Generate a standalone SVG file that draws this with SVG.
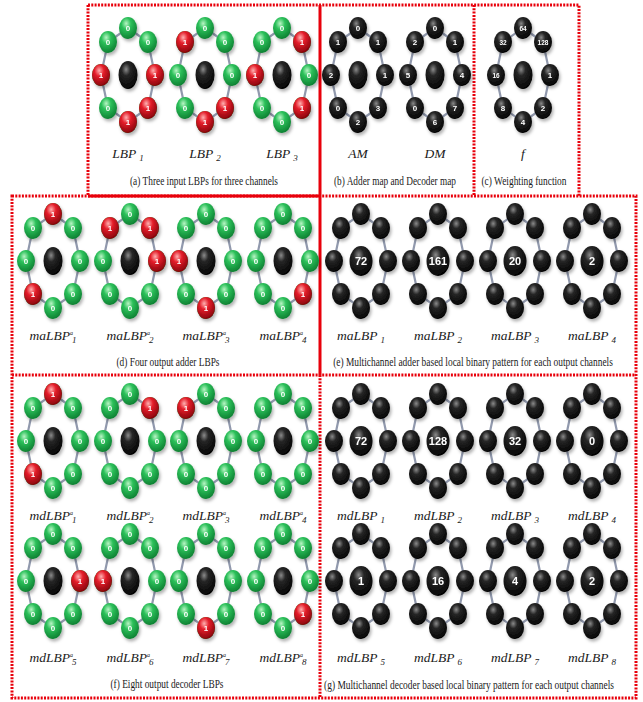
<svg xmlns="http://www.w3.org/2000/svg" width="643" height="702" viewBox="0 0 643 702">
<style>
.c{font-family:"Liberation Serif","Times New Roman",serif;font-size:12px;fill:#1a1a1a;text-anchor:middle}
.l{font-family:"Liberation Serif","Times New Roman",serif;font-style:italic;font-size:13.5px;fill:#1a1a1a;text-anchor:middle}
.sub{font-size:9px}
.sup{font-size:6px}
.t{font-family:"Liberation Sans",Arial,sans-serif;font-weight:bold;font-size:8px;fill:#fff;text-anchor:middle}
.ts{font-size:6.5px}
.tc{font-family:"Liberation Sans",Arial,sans-serif;font-weight:bold;font-size:11px;fill:#fff;text-anchor:middle}
.fd{fill:none;stroke:#e8000b;stroke-width:3;stroke-dasharray:2 1.3}
.fs{fill:none;stroke:#e8000b;stroke-width:3}
.ring{filter:url(#sh)}
</style>
<defs>
<filter id="sh" x="-40%" y="-40%" width="180%" height="180%"><feDropShadow dx="1.5" dy="2.5" stdDeviation="1.5" flood-color="#000" flood-opacity="0.3"/></filter>
<radialGradient id="gG" cx="0.4" cy="0.3" r="0.75"><stop offset="0" stop-color="#b8f5c4"/><stop offset="0.35" stop-color="#2cc05a"/><stop offset="1" stop-color="#0a7a2e"/></radialGradient>
<radialGradient id="gR" cx="0.4" cy="0.3" r="0.75"><stop offset="0" stop-color="#ffb0b0"/><stop offset="0.35" stop-color="#e41e2a"/><stop offset="1" stop-color="#7d0008"/></radialGradient>
<radialGradient id="gK" cx="0.4" cy="0.3" r="0.75"><stop offset="0" stop-color="#8a8a8a"/><stop offset="0.3" stop-color="#262626"/><stop offset="1" stop-color="#000"/></radialGradient>
<ellipse id="n" rx="9" ry="11"/>
<polygon id="edge" points="0,-47 20,-33 27,0 20,33 0,47 -20,33 -27,0 -20,-33" fill="none" stroke="#9199ad" stroke-width="2.2"/>
<g id="gring">
<use href="#n" fill="url(#gG)" x="0" y="-47"/><use href="#n" fill="url(#gG)" x="20" y="-33"/><use href="#n" fill="url(#gG)" x="27" y="0"/><use href="#n" fill="url(#gG)" x="20" y="33"/><use href="#n" fill="url(#gG)" x="0" y="47"/><use href="#n" fill="url(#gG)" x="-20" y="33"/><use href="#n" fill="url(#gG)" x="-27" y="0"/><use href="#n" fill="url(#gG)" x="-20" y="-33"/>
<g font-family="'Liberation Sans', Arial, sans-serif" font-weight="bold" font-size="8" fill="#fff" text-anchor="middle">
<text x="0" y="-44">0</text><text x="20" y="-30">0</text><text x="27" y="3">0</text><text x="20" y="36">0</text><text x="0" y="50">0</text><text x="-20" y="36">0</text><text x="-27" y="3">0</text><text x="-20" y="-30">0</text>
</g>
<ellipse rx="9.5" ry="14" fill="url(#gK)"/>
</g>
<g id="kring">
<use href="#n" fill="url(#gK)" x="0" y="-47"/><use href="#n" fill="url(#gK)" x="20" y="-33"/><use href="#n" fill="url(#gK)" x="27" y="0"/><use href="#n" fill="url(#gK)" x="20" y="33"/><use href="#n" fill="url(#gK)" x="0" y="47"/><use href="#n" fill="url(#gK)" x="-20" y="33"/><use href="#n" fill="url(#gK)" x="-27" y="0"/><use href="#n" fill="url(#gK)" x="-20" y="-33"/>
</g>
<g id="r1"><use href="#n" fill="url(#gR)"/><text x="0" y="3" font-family="'Liberation Sans', Arial, sans-serif" font-weight="bold" font-size="8" fill="#fff" text-anchor="middle">1</text></g>
</defs>
<rect width="643" height="702" fill="#fff"/>

<g id="frames">
<path class="fd" d="M88,5 H579 V196"/>
<path class="fd" d="M88,5 V196"/>
<path class="fd" d="M474,5 V196"/>
<rect class="fd" x="12" y="196" width="624" height="502"/>
<path class="fs" d="M88,196 H320"/>
<path class="fs" d="M320,5 V375" stroke-width="2"/>
<path class="fd" d="M12,375 H636"/>
<path class="fd" d="M320,375 V698"/>
</g>

<g id="connectors">
<use href="#edge" x="128" y="75"/><use href="#edge" x="205" y="75"/><use href="#edge" x="282" y="75"/>
<use href="#edge" x="358" y="75"/><use href="#edge" x="435" y="75"/><use href="#edge" x="523" y="75"/>
<use href="#edge" x="53" y="261"/><use href="#edge" x="130" y="261"/><use href="#edge" x="206" y="261"/><use href="#edge" x="283" y="261"/>
<use href="#edge" x="361" y="261"/><use href="#edge" x="438" y="261"/><use href="#edge" x="515" y="261"/><use href="#edge" x="592" y="261"/>
<use href="#edge" x="53" y="441"/><use href="#edge" x="130" y="441"/><use href="#edge" x="206" y="441"/><use href="#edge" x="283" y="441"/>
<use href="#edge" x="53" y="581"/><use href="#edge" x="130" y="581"/><use href="#edge" x="206" y="581"/><use href="#edge" x="283" y="581"/>
<use href="#edge" x="361" y="441"/><use href="#edge" x="438" y="441"/><use href="#edge" x="515" y="441"/><use href="#edge" x="592" y="441"/>
<use href="#edge" x="361" y="581"/><use href="#edge" x="438" y="581"/><use href="#edge" x="515" y="581"/><use href="#edge" x="592" y="581"/>
</g>

<!-- (a) -->
<g id="lbp1" class="ring" transform="translate(128,75)"><use href="#gring"/><use href="#r1" x="27" y="0"/><use href="#r1" x="20" y="33"/><use href="#r1" x="0" y="47"/><use href="#r1" x="-27" y="0"/></g>
<g id="lbp2" class="ring" transform="translate(205,75)"><use href="#gring"/><use href="#r1" x="20" y="33"/><use href="#r1" x="0" y="47"/><use href="#r1" x="-20" y="-33"/></g>
<g id="lbp3" class="ring" transform="translate(282,75)"><use href="#gring"/><use href="#r1" x="20" y="-33"/><use href="#r1" x="20" y="33"/><use href="#r1" x="-27" y="0"/></g>

<!-- (b) -->
<g id="am" class="ring" transform="translate(358,75)"><use href="#kring"/><ellipse rx="9.5" ry="14" fill="url(#gK)"/>
<text class="t" x="0" y="-44">0</text><text class="t" x="20" y="-30">1</text><text class="t" x="27" y="3">1</text><text class="t" x="20" y="36">3</text><text class="t" x="0" y="50">2</text><text class="t" x="-20" y="36">0</text><text class="t" x="-27" y="3">2</text><text class="t" x="-20" y="-30">1</text></g>
<g id="dm" class="ring" transform="translate(435,75)"><use href="#kring"/><ellipse rx="9.5" ry="14" fill="url(#gK)"/>
<text class="t" x="0" y="-44">0</text><text class="t" x="20" y="-30">1</text><text class="t" x="27" y="3">4</text><text class="t" x="20" y="36">7</text><text class="t" x="0" y="50">6</text><text class="t" x="-20" y="36">0</text><text class="t" x="-27" y="3">5</text><text class="t" x="-20" y="-30">2</text></g>
<!-- (c) -->
<g id="wf" class="ring" transform="translate(523,75)"><use href="#kring"/><ellipse rx="9.5" ry="14" fill="url(#gK)"/>
<text class="t ts" x="0" y="-44.5">64</text><text class="t ts" x="20" y="-30.5">128</text><text class="t" x="27" y="3">1</text><text class="t" x="20" y="36">2</text><text class="t" x="0" y="50">4</text><text class="t" x="-20" y="36">8</text><text class="t ts" x="-27" y="2.5">16</text><text class="t ts" x="-20" y="-30.5">32</text></g>

<!-- (d) -->
<g id="maa1" class="ring" transform="translate(53,261)"><use href="#gring"/><use href="#r1" x="0" y="-47"/><use href="#r1" x="-20" y="33"/></g>
<g id="maa2" class="ring" transform="translate(130,261)"><use href="#gring"/><use href="#r1" x="20" y="-33"/><use href="#r1" x="27" y="0"/><use href="#r1" x="-20" y="-33"/></g>
<g id="maa3" class="ring" transform="translate(206,261)"><use href="#gring"/><use href="#r1" x="0" y="47"/><use href="#r1" x="-27" y="0"/></g>
<g id="maa4" class="ring" transform="translate(283,261)"><use href="#gring"/><use href="#r1" x="20" y="33"/></g>

<!-- (e) -->
<g id="ma1" class="ring" transform="translate(361,261)"><use href="#kring"/><ellipse rx="11.5" ry="15" fill="url(#gK)"/><text class="tc" y="4">72</text></g>
<g id="ma2" class="ring" transform="translate(438,261)"><use href="#kring"/><ellipse rx="11.5" ry="15" fill="url(#gK)"/><text class="tc" y="4">161</text></g>
<g id="ma3" class="ring" transform="translate(515,261)"><use href="#kring"/><ellipse rx="11.5" ry="15" fill="url(#gK)"/><text class="tc" y="4">20</text></g>
<g id="ma4" class="ring" transform="translate(592,261)"><use href="#kring"/><ellipse rx="11.5" ry="15" fill="url(#gK)"/><text class="tc" y="4">2</text></g>

<!-- (f) -->
<g id="mda1" class="ring" transform="translate(53,441)"><use href="#gring"/><use href="#r1" x="0" y="-47"/><use href="#r1" x="-20" y="33"/></g>
<g id="mda2" class="ring" transform="translate(130,441)"><use href="#gring"/><use href="#r1" x="20" y="-33"/></g>
<g id="mda3" class="ring" transform="translate(206,441)"><use href="#gring"/><use href="#r1" x="-20" y="-33"/></g>
<g id="mda4" class="ring" transform="translate(283,441)"><use href="#gring"/></g>
<g id="mda5" class="ring" transform="translate(53,581)"><use href="#gring"/><use href="#r1" x="27" y="0"/></g>
<g id="mda6" class="ring" transform="translate(130,581)"><use href="#gring"/><use href="#r1" x="-27" y="0"/></g>
<g id="mda7" class="ring" transform="translate(206,581)"><use href="#gring"/><use href="#r1" x="0" y="47"/></g>
<g id="mda8" class="ring" transform="translate(283,581)"><use href="#gring"/><use href="#r1" x="20" y="33"/></g>

<!-- (g) -->
<g id="md1" class="ring" transform="translate(361,441)"><use href="#kring"/><ellipse rx="11.5" ry="15" fill="url(#gK)"/><text class="tc" y="4">72</text></g>
<g id="md2" class="ring" transform="translate(438,441)"><use href="#kring"/><ellipse rx="11.5" ry="15" fill="url(#gK)"/><text class="tc" y="4">128</text></g>
<g id="md3" class="ring" transform="translate(515,441)"><use href="#kring"/><ellipse rx="11.5" ry="15" fill="url(#gK)"/><text class="tc" y="4">32</text></g>
<g id="md4" class="ring" transform="translate(592,441)"><use href="#kring"/><ellipse rx="11.5" ry="15" fill="url(#gK)"/><text class="tc" y="4">0</text></g>
<g id="md5" class="ring" transform="translate(361,581)"><use href="#kring"/><ellipse rx="11.5" ry="15" fill="url(#gK)"/><text class="tc" y="4">1</text></g>
<g id="md6" class="ring" transform="translate(438,581)"><use href="#kring"/><ellipse rx="11.5" ry="15" fill="url(#gK)"/><text class="tc" y="4">16</text></g>
<g id="md7" class="ring" transform="translate(515,581)"><use href="#kring"/><ellipse rx="11.5" ry="15" fill="url(#gK)"/><text class="tc" y="4">4</text></g>
<g id="md8" class="ring" transform="translate(592,581)"><use href="#kring"/><ellipse rx="11.5" ry="15" fill="url(#gK)"/><text class="tc" y="4">2</text></g>

<g id="labels">
<text class="l" x="128" y="158">LBP<tspan class="sub" dx="3" dy="3">1</tspan></text>
<text class="l" x="205" y="158">LBP<tspan class="sub" dx="3" dy="3">2</tspan></text>
<text class="l" x="282" y="158">LBP<tspan class="sub" dx="3" dy="3">3</tspan></text>
<text class="l" x="358" y="158">AM</text>
<text class="l" x="435" y="158">DM</text>
<text class="l" x="523" y="158">f</text>

<text class="l" x="53" y="340">maLBP<tspan class="sup" dy="-5">a</tspan><tspan class="sub" dx="-1" dy="8">1</tspan></text>
<text class="l" x="130" y="340">maLBP<tspan class="sup" dy="-5">a</tspan><tspan class="sub" dx="-1" dy="8">2</tspan></text>
<text class="l" x="206" y="340">maLBP<tspan class="sup" dy="-5">a</tspan><tspan class="sub" dx="-1" dy="8">3</tspan></text>
<text class="l" x="283" y="340">maLBP<tspan class="sup" dy="-5">a</tspan><tspan class="sub" dx="-1" dy="8">4</tspan></text>
<text class="l" x="361" y="340">maLBP<tspan class="sub" dx="3" dy="3">1</tspan></text>
<text class="l" x="438" y="340">maLBP<tspan class="sub" dx="3" dy="3">2</tspan></text>
<text class="l" x="515" y="340">maLBP<tspan class="sub" dx="3" dy="3">3</tspan></text>
<text class="l" x="592" y="340">maLBP<tspan class="sub" dx="3" dy="3">4</tspan></text>

<text class="l" x="53" y="520">mdLBP<tspan class="sup" dy="-5">a</tspan><tspan class="sub" dx="-1" dy="8">1</tspan></text>
<text class="l" x="130" y="520">mdLBP<tspan class="sup" dy="-5">a</tspan><tspan class="sub" dx="-1" dy="8">2</tspan></text>
<text class="l" x="206" y="520">mdLBP<tspan class="sup" dy="-5">a</tspan><tspan class="sub" dx="-1" dy="8">3</tspan></text>
<text class="l" x="283" y="520">mdLBP<tspan class="sup" dy="-5">a</tspan><tspan class="sub" dx="-1" dy="8">4</tspan></text>
<text class="l" x="53" y="662">mdLBP<tspan class="sup" dy="-5">a</tspan><tspan class="sub" dx="-1" dy="8">5</tspan></text>
<text class="l" x="130" y="662">mdLBP<tspan class="sup" dy="-5">a</tspan><tspan class="sub" dx="-1" dy="8">6</tspan></text>
<text class="l" x="206" y="662">mdLBP<tspan class="sup" dy="-5">a</tspan><tspan class="sub" dx="-1" dy="8">7</tspan></text>
<text class="l" x="283" y="662">mdLBP<tspan class="sup" dy="-5">a</tspan><tspan class="sub" dx="-1" dy="8">8</tspan></text>

<text class="l" x="361" y="520">mdLBP<tspan class="sub" dx="3" dy="3">1</tspan></text>
<text class="l" x="438" y="520">mdLBP<tspan class="sub" dx="3" dy="3">2</tspan></text>
<text class="l" x="515" y="520">mdLBP<tspan class="sub" dx="3" dy="3">3</tspan></text>
<text class="l" x="592" y="520">mdLBP<tspan class="sub" dx="3" dy="3">4</tspan></text>
<text class="l" x="361" y="662">mdLBP<tspan class="sub" dx="3" dy="3">5</tspan></text>
<text class="l" x="438" y="662">mdLBP<tspan class="sub" dx="3" dy="3">6</tspan></text>
<text class="l" x="515" y="662">mdLBP<tspan class="sub" dx="3" dy="3">7</tspan></text>
<text class="l" x="592" y="662">mdLBP<tspan class="sub" dx="3" dy="3">8</tspan></text>
</g>

<g id="captions">
<text class="c" x="204" y="185" textLength="148" lengthAdjust="spacingAndGlyphs">(a) Three input LBPs for three channels</text>
<text class="c" x="395" y="185" textLength="122" lengthAdjust="spacingAndGlyphs">(b) Adder map  and Decoder map</text>
<text class="c" x="524" y="185" textLength="85" lengthAdjust="spacingAndGlyphs">(c) Weighting function</text>
<text class="c" x="168" y="366" textLength="103" lengthAdjust="spacingAndGlyphs">(d) Four output adder LBPs</text>
<text class="c" transform="translate(473,366) scale(0.76,1)" x="0" y="0" textLength="368" lengthAdjust="spacingAndGlyphs">(e) Multichannel adder based local binary pattern for each output channels</text>
<text class="c" x="167" y="688" textLength="113" lengthAdjust="spacingAndGlyphs">(f) Eight output decoder LBPs</text>
<text class="c" transform="translate(469,689) scale(0.765,1)" x="0" y="0" textLength="379" lengthAdjust="spacingAndGlyphs">(g) Multichannel decoder based local binary pattern for each output channels</text>
</g>
</svg>
